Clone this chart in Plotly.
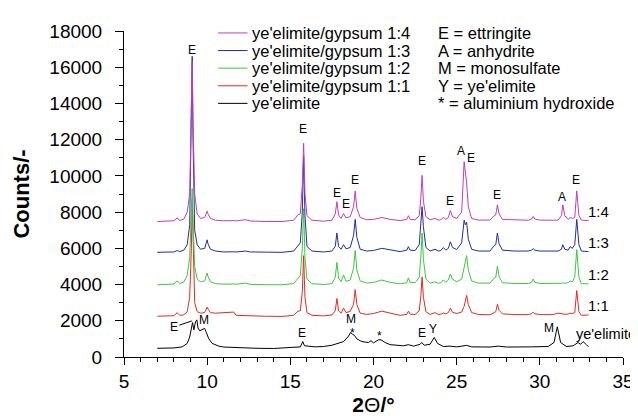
import plotly.graph_objects as go

# ---------------- data ----------------
# 2-theta grid shared by the hydrated ye'elimite/gypsum mixtures
two_theta_mix = [7.0, 7.5, 8.0, 8.2, 8.35, 8.6, 8.8, 8.95, 9.05, 9.1, 9.15, 9.25, 9.4, 9.6, 9.85,
                 9.95, 10.0, 10.05, 10.2, 10.5, 11.0, 11.6, 11.75, 12.3, 12.6, 13.5, 14.5, 15.2,
                 15.45, 15.6, 15.72, 15.8, 15.88, 16.0, 16.3, 17.0, 17.5, 17.7, 17.8, 17.9, 18.05,
                 18.2, 18.35, 18.6, 18.8, 18.9, 19.0, 19.2, 19.6, 20.0, 20.5, 21.0, 21.6, 22.0,
                 22.1, 22.2, 22.5, 22.75, 22.85, 22.92, 23.0, 23.15, 23.4, 23.7, 23.9, 24.05,
                 24.2, 24.35, 24.5, 24.62, 24.75, 25.0, 25.3, 25.45, 25.52, 25.6, 25.7, 25.9,
                 26.3, 27.0, 27.25, 27.35, 27.45, 27.55, 27.75, 28.5, 29.3, 29.5, 29.6, 29.7,
                 30.0, 30.8, 31.1, 31.3, 31.38, 31.5, 31.7, 31.82, 31.95, 32.1, 32.22, 32.35,
                 32.5, 32.93]

counts_1_4 = [7480, 7500, 7520, 7680, 7530, 7620, 8000, 9000, 13000, 16300, 13000, 9000, 7900, 7650, 7700,
              7950, 8050, 7900, 7650, 7550, 7520, 7530, 7520, 7580, 7510, 7480, 7480, 7550,
              7850, 7900, 9500, 11800, 9000, 7800, 7550, 7500, 7550, 7900, 8570, 7850, 7650,
              7920, 7680, 7750, 8300, 9160, 8200, 7700, 7580, 7600, 7700, 7600, 7530, 7600,
              7800, 7600, 7580, 7800, 8800, 10030, 8600, 7750, 7580, 7650, 7560, 7580,
              7700, 7600, 7700, 8090, 7750, 7650, 8000, 10780, 10200, 9600, 8300, 7650,
              7560, 7560, 7800, 7850, 8400, 7900, 7600, 7580, 7550, 7620, 7760, 7620,
              7560, 7550, 7560, 7800, 8400, 7800, 7600, 7700, 7650, 7700, 9170, 7800,
              7560, 7530]

counts_1_3 = [5780, 5790, 5800, 5880, 5820, 5900, 6200, 7300, 12500, 16600, 12000, 7000, 6200, 5950, 6000,
              6350, 6470, 6250, 5950, 5850, 5800, 5810, 5800, 5850, 5800, 5790, 5780, 5850,
              6150, 6300, 8000, 11100, 7800, 6100, 5850, 5800, 5850, 6100, 6850, 6100, 5950,
              6200, 5970, 6050, 6700, 7600, 6600, 5950, 5850, 5880, 6000, 5900, 5820, 5900,
              6090, 5900, 5880, 6200, 7400, 8300, 7200, 6050, 5850, 5950, 5850, 5880,
              6040, 5900, 6000, 6360, 6050, 5930, 6300, 7550, 7300, 7450, 6500, 5950,
              5850, 5850, 6150, 6200, 6850, 6250, 5900, 5850, 5850, 5900, 5980, 5900,
              5850, 5840, 5850, 5950, 6200, 5950, 5900, 6090, 6000, 6200, 7600, 6200,
              5850, 5820]

counts_1_2 = [3990, 4000, 4030, 4200, 4050, 4150, 4500, 5500, 8000, 9300, 7500, 5000, 4300, 4150, 4200,
              4550, 4640, 4450, 4150, 4050, 4020, 4030, 4020, 4080, 4010, 3990, 3990, 4050,
              4370, 4500, 6000, 8200, 5500, 4300, 4050, 4000, 4050, 4400, 5230, 4350, 4150,
              4530, 4180, 4250, 4900, 5880, 4800, 4200, 4080, 4120, 4250, 4120, 4040, 4100,
              4370, 4120, 4100, 4400, 5600, 6850, 5400, 4300, 4080, 4150, 4070, 4100,
              4260, 4120, 4250, 4580, 4300, 4150, 4300, 4900, 5300, 5600, 4800, 4200,
              4080, 4080, 4350, 4400, 5010, 4450, 4100, 4060, 4060, 4120, 4310, 4120,
              4060, 4050, 4060, 4070, 4100, 4070, 4100, 4200, 4150, 4400, 5930, 4400,
              4050, 4040]

counts_1_1 = [2250, 2270, 2280, 2450, 2300, 2330, 2500, 3300, 6000, 8700, 6500, 3000, 2500, 2420, 2450,
              2700, 2750, 2650, 2450, 2420, 2450, 2480, 2300, 2280, 2260, 2250, 2240, 2300,
              2530, 2550, 3600, 5600, 3300, 2450, 2300, 2270, 2320, 2550, 3230, 2550, 2420,
              2700, 2450, 2520, 2900, 3720, 2900, 2420, 2350, 2400, 2530, 2430, 2300, 2350,
              2530, 2370, 2350, 2550, 3400, 4420, 3300, 2500, 2350, 2450, 2340, 2370,
              2430, 2380, 2450, 2700, 2470, 2400, 2480, 2800, 3100, 3400, 2900, 2450,
              2350, 2330, 2450, 2500, 2910, 2580, 2380, 2340, 2340, 2390, 2480, 2390,
              2340, 2340, 2420, 2380, 2370, 2360, 2370, 2420, 2400, 2450, 3670, 2500,
              2300, 2320]

# anhydrous ye'elimite
two_theta_yee = [7.0, 7.5, 8.0, 8.5, 8.8, 8.95, 9.05, 9.12, 9.2, 9.3, 9.38, 9.45, 9.55, 9.7, 9.85,
                 9.95, 10.1, 10.3, 10.7, 11.0, 12.0, 13.0, 14.0, 15.0, 15.6, 15.75, 15.85, 16.5,
                 17.0, 17.5, 17.8, 18.2, 18.5, 18.62, 18.75, 18.85, 19.0, 19.3, 19.7, 19.85,
                 20.0, 20.3, 20.45, 20.7, 21.0, 21.8, 22.1, 22.4, 22.8, 22.9, 23.05, 23.4,
                 23.65, 23.85, 24.2, 24.6, 25.0, 25.6, 25.9, 27.0, 27.5, 28.0, 29.5, 30.5,
                 30.85, 31.05, 31.25, 31.6, 32.0, 32.3, 32.45, 32.6, 32.8, 32.93]
counts_yee = [480, 470, 500, 560, 750, 1100, 1700, 1900, 1500, 1950, 2050, 1600, 1450, 1500, 1580,
              1350, 1000, 750, 600, 550, 500, 480, 470, 500, 560, 850, 620, 560,
              580, 650, 750, 850, 1150, 1350, 1250, 1200, 1000, 850, 800, 900,
              780, 950, 950, 800, 680, 620, 680, 600, 700, 800, 650, 700,
              1080, 750, 580, 600, 560, 640, 560, 550, 600, 550, 560, 580,
              800, 1670, 800, 580, 620, 800, 700, 850, 680, 560]

series_names = ["ye'elimite/gypsum 1:4", "ye'elimite/gypsum 1:3", "ye'elimite/gypsum 1:2",
                "ye'elimite/gypsum 1:1", "ye'elimite"]
ratio_labels = ["1:4", "1:3", "1:2", "1:1", "ye'elimite"]
phase_key = ["E = ettringite", "A = anhydrite", "M = monosulfate", "Y = ye'elimite",
             "* = aluminium hydroxide"]

x_ticks = [5, 10, 15, 20, 25, 30, 35]
y_ticks = [0, 2000, 4000, 6000, 8000, 10000, 12000, 14000, 16000, 18000]

# ---------------- styling ----------------
FONT = "Liberation Sans, Arial, Helvetica, sans-serif"
colors = ["#c03cc0", "#1f2f9c", "#3cc83c", "#e42a22", "#000000"]

fig = go.Figure()
series = [
    (two_theta_yee, counts_yee, 4),
    (two_theta_mix, counts_1_1, 3),
    (two_theta_mix, counts_1_2, 2),
    (two_theta_mix, counts_1_3, 1),
    (two_theta_mix, counts_1_4, 0),
]
for xs, ys, i in series:
    fig.add_trace(go.Scatter(x=xs, y=ys, mode="lines", name=series_names[i],
                             line=dict(color=colors[i], width=1), showlegend=False))

# phase labels above peaks (text, 2theta, counts)
phase_labels = [
    ("E", 9.07, 16950), ("E", 15.78, 12600), ("E", 17.79, 9050), ("E", 18.32, 8450),
    ("E", 18.9, 9750), ("E", 22.91, 10830), ("E", 24.62, 8600), ("A", 25.27, 11370),
    ("E", 25.86, 10980), ("E", 27.45, 8950), ("A", 31.34, 8830), ("E", 32.17, 9800),
    ("E", 15.72, 1350), ("M", 18.67, 2120), ("*", 18.72, 1330), ("*", 20.38, 1150),
    ("E", 22.9, 1350), ("Y", 23.6, 1520), ("M", 30.55, 1600), ("M", 9.78, 2020),
]
for txt, xx, yy in phase_labels:
    fig.add_annotation(x=xx, y=yy, text=txt, showarrow=False,
                       font=dict(family=FONT, size=12, color="#000"))
# E with leader line in the ye'elimite pattern
fig.add_annotation(x=9.08, y=1990, text="E", showarrow=True, arrowhead=0, arrowwidth=1,
                   arrowcolor="#000", ax=-18, ay=6, standoff=0, startstandoff=0,
                   font=dict(family=FONT, size=12, color="#000"))

# ratio labels at the right end of each pattern
ratio_x = [32.8, 32.8, 32.8, 32.8, 32.05]
ratio_y = [8030, 6300, 4580, 2860, 1290]
ratio_size = [15, 15, 15, 15, 14.5]
for lab, xx, yy, fs in zip(ratio_labels, ratio_x, ratio_y, ratio_size):
    fig.add_annotation(x=xx, y=yy, text=lab, showarrow=False, xanchor="left",
                       font=dict(family=FONT, size=fs, color="#000"))

# manual legend (paper coordinates)
leg_y = [0.994, 0.940, 0.886, 0.832, 0.778]
for i, yy in enumerate(leg_y):
    fig.add_shape(type="line", xref="paper", yref="paper", x0=0.1886, x1=0.2475, y0=yy, y1=yy,
                  line=dict(color=colors[i], width=1))
    fig.add_annotation(xref="paper", yref="paper", x=0.2535, y=yy, text=series_names[i],
                       showarrow=False, xanchor="left", yanchor="middle",
                       font=dict(family=FONT, size=16.5, color="#000"))
    fig.add_annotation(xref="paper", yref="paper", x=0.6247, y=yy, text=phase_key[i],
                       showarrow=False, xanchor="left", yanchor="middle",
                       font=dict(family=FONT, size=16.5, color="#000"))

fig.update_layout(
    width=638, height=416,
    margin=dict(l=116, r=13, t=23, b=59),
    paper_bgcolor="white", plot_bgcolor="white",
    font=dict(family=FONT, color="#000"),
    showlegend=False,
)
fig.update_xaxes(
    range=[5, 35], tickvals=x_ticks, ticktext=[str(v) for v in x_ticks],
    showgrid=False, zeroline=False, showline=True, linecolor="#000", linewidth=1,
    ticks="outside", ticklen=7, tickcolor="#000", tickwidth=1,
    minor=dict(dtick=1, ticks="outside", ticklen=4, tickcolor="#000", showgrid=False),
    tickfont=dict(family=FONT, size=19),
    title=dict(text="<b>2</b>Θ<b>/°</b>", font=dict(family=FONT, size=21), standoff=6),
)
fig.update_yaxes(
    range=[0, 18000], tickvals=y_ticks, ticktext=[str(v) for v in y_ticks],
    showgrid=False, zeroline=False, showline=True, linecolor="#000", linewidth=1,
    ticks="outside", ticklen=8, tickcolor="#000", tickwidth=1, ticklabelstandoff=9,
    minor=dict(dtick=1000, ticks="outside", ticklen=4, tickcolor="#000", showgrid=False),
    tickfont=dict(family=FONT, size=19),
    title=dict(text="<b>Counts/-</b>", font=dict(family=FONT, size=22), standoff=13),
)

fig.write_html("out.html")
